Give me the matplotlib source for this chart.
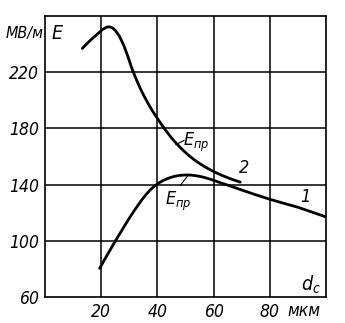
import matplotlib
matplotlib.use('Agg')
from matplotlib import pyplot as plt

plt.rcParams['font.family'] = ['DejaVu Sans']
plt.rcParams['font.stretch'] = 'condensed'
plt.rcParams['mathtext.fontset'] = 'dejavusans'

# Curve 2 (upper), E_пр vs d_c
d2 = [13.3, 15, 17, 19, 20.5, 22, 23, 24, 25, 26.5, 28, 29.5, 31, 32.5, 34, 35.5,
      37, 38.5, 40, 41.5, 43, 45, 47, 49, 51, 53, 55, 57, 59, 61, 63, 65, 67, 69.5]
e2 = [237, 240.5, 244.3, 247.8, 250.5, 252.2, 252.4, 251.7, 250, 245.8, 239.5,
      231.5, 222.5, 215, 208.3, 202.3, 196.8, 191.8, 187.2, 182.8, 178.6, 173.4,
      168.9, 164.8, 161.1, 157.9, 155.1, 152.6, 150.4, 148.4, 146.6, 145, 143.5, 141.8]

# Curve 1 (lower)
d1 = [19.5, 21, 22.5, 24, 25.5, 27, 28.5, 30, 31.5, 33, 34.5, 36, 37.5, 39, 40.5,
      42, 43.5, 45, 46.5, 48, 50, 52, 54, 56, 58, 60, 63, 66, 70, 75, 80, 85, 90,
      95, 100]
e1 = [80.4, 85.8, 91, 96.2, 101.3, 106.2, 111.2, 116, 120.6, 125, 129.2, 133,
      136.3, 139, 141.2, 142.9, 144.2, 145.3, 146.1, 146.6, 146.9, 146.8, 146.3,
      145.5, 144.4, 143.1, 141, 139, 136.2, 132.8, 129.6, 126.7, 123.9, 120.5, 117]

yticks = [60, 100, 140, 180, 220]
xticks = [20, 40, 60, 80]

fig = plt.figure(figsize=(3.45, 3.23), dpi=100)
ax = fig.add_axes([0.130, 0.0805, 0.815, 0.8695])
ax.set_xlim(0, 100)
ax.set_ylim(60, 260)

for x in xticks:
    ax.axvline(x, color='black', lw=1.1)
for y in yticks[1:]:
    ax.axhline(y, color='black', lw=1.1)
for s in ax.spines.values():
    s.set_linewidth(1.2)

ax.plot(d2, e2, color='black', lw=2.0, solid_capstyle='round')
ax.plot(d1, e1, color='black', lw=2.0, solid_capstyle='round')

ax.set_xticks(xticks)
ax.set_xticklabels([str(v) for v in xticks], fontsize=12.5, style='italic')
ax.set_yticks(yticks)
ax.set_yticklabels([str(v) for v in yticks], fontsize=12.5, style='italic')
ax.tick_params(length=0, pad=4)

# axis captions
ax.text(92, -0.05, 'мкм', transform=ax.get_xaxis_transform(), ha='center',
        va='center', fontsize=12.5, style='italic')
ax.text(-0.5, 248, 'МВ/м', ha='right', va='center', fontsize=11.5, style='italic')
ax.text(2.5, 248, 'E', ha='left', va='center', fontsize=14, style='italic')
ax.text(98, 69, r'$d_c$', ha='right', va='center', fontsize=14)

# curve annotations
ax.plot([46.6, 49.5], [168.5, 171.5], color='black', lw=0.8)
ax.text(49.3, 170, r'$E_{пр}$', ha='left', va='center', fontsize=13)
ax.plot([51.2, 48.2], [147.3, 139.5], color='black', lw=0.8)
ax.text(47.5, 128, r'$E_{пр}$', ha='center', va='center', fontsize=13)
ax.text(71, 152, '2', ha='center', va='center', fontsize=13, style='italic')
ax.text(92.5, 131, '1', ha='center', va='center', fontsize=13, style='italic')

fig.savefig('out.png', dpi=100)
